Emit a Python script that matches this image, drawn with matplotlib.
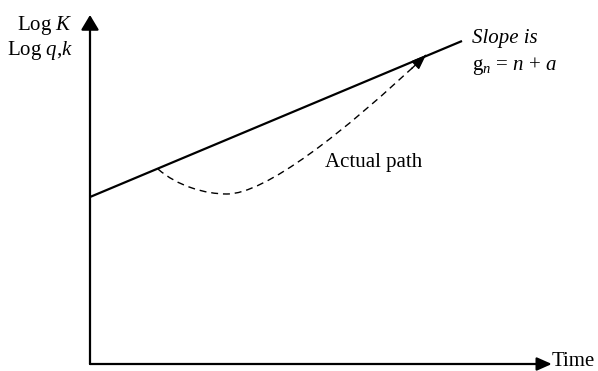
import numpy as np
import matplotlib
matplotlib.use("Agg")
import matplotlib.pyplot as plt
from matplotlib.path import Path
from matplotlib.patches import PathPatch

plt.rcParams["font.family"] = ["Liberation Serif", "DejaVu Serif"]
plt.rcParams["mathtext.fontset"] = "custom"
plt.rcParams["mathtext.rm"] = "Liberation Serif"
plt.rcParams["mathtext.it"] = "Liberation Serif:italic"

# Steady-state growth line (time, log level)
trend_time = [0.0, 8.087]
trend_log = [4.785, 9.255]

# Actual path: start on trend, dip, rejoin trend (Bezier anchors and handles)
path_time = [1.478, 1.9, 2.5, 2.978, 3.8, 5.5, 7.304]
path_log = [5.587, 5.1, 4.871, 4.871, 4.871, 6.6, 8.854]

W, H = 598, 371
fig = plt.figure(figsize=(W / 100, H / 100), dpi=100)
ax = fig.add_axes([90 / W, 7 / H, 460 / W, 349 / H])
ax.set_xlim(0, 10)
ax.set_ylim(0, 10)
ax.axis("off")

# Axes with arrowheads
ax.annotate("", xy=(0, 10), xytext=(0, 0),
            arrowprops=dict(arrowstyle="-|>,head_length=0.45,head_width=0.27",
                            mutation_scale=20, lw=1.6, color="black",
                            shrinkA=0, shrinkB=0), annotation_clip=False)
ax.annotate("", xy=(10.04, 0), xytext=(0, 0),
            arrowprops=dict(arrowstyle="-|>,head_length=0.45,head_width=0.2",
                            mutation_scale=20, lw=1.6, color="black",
                            shrinkA=0, shrinkB=0), annotation_clip=False)

# Trend line
ax.plot(trend_time, trend_log, color="black", lw=1.6, solid_capstyle="butt")

# Dashed actual path
verts = list(zip(path_time, path_log))
codes = [Path.MOVETO] + [Path.CURVE4] * 6
patch = PathPatch(Path(verts, codes), facecolor="none", edgecolor="black",
                  lw=1.0, linestyle=(0, (5, 3.5)))
ax.add_patch(patch)

# Arrowhead at end of actual path, aligned with the end tangent
end = np.array(verts[-1])
tan = end - np.array(verts[-2])
tan /= np.linalg.norm(tan)
ax.annotate("", xy=tuple(end), xytext=tuple(end - 0.5 * tan),
            arrowprops=dict(arrowstyle="-|>,head_length=0.45,head_width=0.17",
                            mutation_scale=20, lw=1.0, color="black",
                            shrinkA=0, shrinkB=0))

fs = 15
fig.text(73 / W, 1 - 30 / H, "Log $K$", ha="right", va="baseline", fontsize=fs)
fig.text(73 / W, 1 - 55 / H, "Log $q$,$k$", ha="right", va="baseline", fontsize=fs)
fig.text(472 / W, 1 - 43 / H, "Slope is", ha="left", va="baseline",
         fontsize=fs, style="italic")
fig.text(472 / W, 1 - 70 / H, "g$_{n}$ = $n$ + $a$", ha="left",
         va="baseline", fontsize=fs)
fig.text(325 / W, 1 - 167 / H, "Actual path", ha="left", va="baseline", fontsize=fs)
fig.text(552 / W, 1 - 366 / H, "Time", ha="left", va="baseline", fontsize=fs)

fig.savefig("out.png", dpi=100)
